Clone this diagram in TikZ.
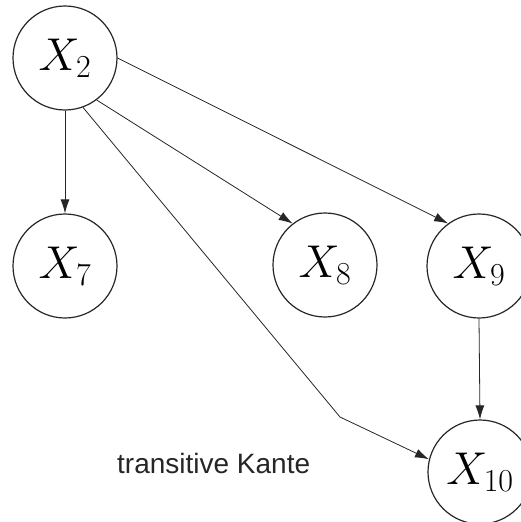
\RequirePackage{fix-cm}
\documentclass[tikz,border=0pt]{standalone}
\usepackage{fontspec}
\newfontfamily\labelfont{Liberation Sans}
\DeclareMathSizes{46}{46}{32}{23}
\usetikzlibrary{arrows.meta}
\begin{document}
\begin{tikzpicture}[x=1pt,y=-1pt,
  var/.style={circle,draw=black!85,line width=1.2pt,minimum size=104pt,inner sep=0pt,
    font=\fontsize{46}{50}\selectfont},
  edge/.style={draw=black!85,line width=0.8pt,-{Latex[length=14pt,width=9pt]}}]
\useasboundingbox (0,0) rectangle (521,522);
\node[var] (x2) at (65,58) {$X_2$};
\node[var] (x7) at (65,266) {$X_7$};
\node[var] (x8) at (325,265) {$X_8$};
\node[var] (x9) at (479,266) {$X_9$};
\node[var] (x10) at (480,472) {$X_{10}$};
\coordinate (bend) at (340,417);
\node[anchor=base west,inner sep=0pt,font=\labelfont\fontsize{28}{32}\selectfont,text=black!85] (lab) at (117,473) {transitive Kante};
\draw[edge] (x2.south) -- (x7.north);
\draw[edge] (x2.-53) -- (x8.128);
\draw[edge] (x2.east) -- (x9.126);
\draw[edge] (x2.-70) -- (bend) -- (x10.166);
\draw[edge] (x9.south) -- (x10.north);
\end{tikzpicture}
\end{document}
